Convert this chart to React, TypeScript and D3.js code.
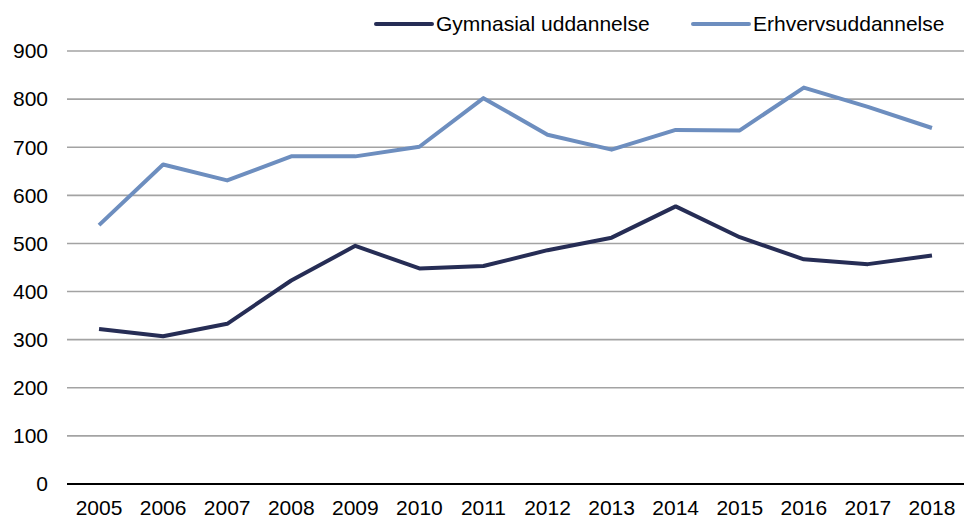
import { useEffect, useRef } from "react";
import * as d3 from "d3";

const years = [2005, 2006, 2007, 2008, 2009, 2010, 2011, 2012, 2013, 2014, 2015, 2016, 2017, 2018];
const gymnasial = [322, 307, 333, 423, 495, 448, 453, 486, 512, 577, 513, 467, 457, 475];
const erhverv = [538, 664, 631, 681, 681, 701, 802, 726, 695, 736, 735, 824, 784, 740];
const yTicks = [0, 100, 200, 300, 400, 500, 600, 700, 800, 900];

const series = [
  { name: "Gymnasial uddannelse", values: gymnasial, color: "#262d55" },
  { name: "Erhvervsuddannelse", values: erhverv, color: "#6d8ebf" },
];

export default function App() {
  const svgRef = useRef<SVGSVGElement | null>(null);

  useEffect(() => {
    const width = 966;
    const height = 520;
    const left = 67;
    const right = 964;
    const top = 51;
    const bottom = 484;
    const font = "'Liberation Sans', Arial, sans-serif";

    const svg = d3.select(svgRef.current).attr("width", width).attr("height", height);
    svg.selectAll("*").remove();

    const x = d3
      .scaleBand<number>()
      .domain(years)
      .range([left, right]);
    const y = d3.scaleLinear().domain([0, 900]).range([bottom, top]);
    const cx = (d: number) => (x(d) as number) + x.bandwidth() / 2;

    // gridlines
    svg
      .append("g")
      .selectAll("line")
      .data(yTicks.filter((t) => t > 0))
      .enter()
      .append("line")
      .attr("x1", left)
      .attr("x2", right)
      .attr("y1", (d) => y(d))
      .attr("y2", (d) => y(d))
      .attr("stroke", "#a3a3a3")
      .attr("stroke-width", 1.6);

    // baseline
    svg
      .append("line")
      .attr("x1", left)
      .attr("x2", right)
      .attr("y1", y(0))
      .attr("y2", y(0))
      .attr("stroke", "#000")
      .attr("stroke-width", 2);

    // y labels
    svg
      .append("g")
      .selectAll("text")
      .data(yTicks)
      .enter()
      .append("text")
      .attr("x", 48)
      .attr("y", (d) => y(d))
      .attr("dy", "0.35em")
      .attr("text-anchor", "end")
      .attr("font-family", font)
      .attr("font-size", 21)
      .attr("fill", "#000")
      .text((d) => d);

    // x labels
    svg
      .append("g")
      .selectAll("text")
      .data(years)
      .enter()
      .append("text")
      .attr("x", (d) => cx(d))
      .attr("y", 515)
      .attr("text-anchor", "middle")
      .attr("font-family", font)
      .attr("font-size", 21)
      .attr("fill", "#000")
      .text((d) => d);

    const line = d3
      .line<number>()
      .x((_, i) => cx(years[i]))
      .y((d) => y(d));

    series.forEach((s) => {
      svg
        .append("path")
        .attr("d", line(s.values))
        .attr("fill", "none")
        .attr("stroke", s.color)
        .attr("stroke-width", 4)
        .attr("stroke-linejoin", "round");
    });

    // legend
    const legendX = [376, 693];
    series.forEach((s, i) => {
      const g = svg.append("g").attr("transform", `translate(${legendX[i]},24)`);
      g.append("line")
        .attr("x1", 0)
        .attr("x2", 56)
        .attr("stroke", s.color)
        .attr("stroke-width", 4)
        .attr("stroke-linecap", "round");
      g.append("text")
        .attr("x", 60)
        .attr("dy", "0.35em")
        .attr("font-family", font)
        .attr("font-size", 21)
        .attr("fill", "#000")
        .text(s.name);
    });

    return () => {
      svg.selectAll("*").remove();
    };
  }, []);

  return <svg ref={svgRef} style={{ position: "absolute", left: 0, top: 0 }} />;
}
